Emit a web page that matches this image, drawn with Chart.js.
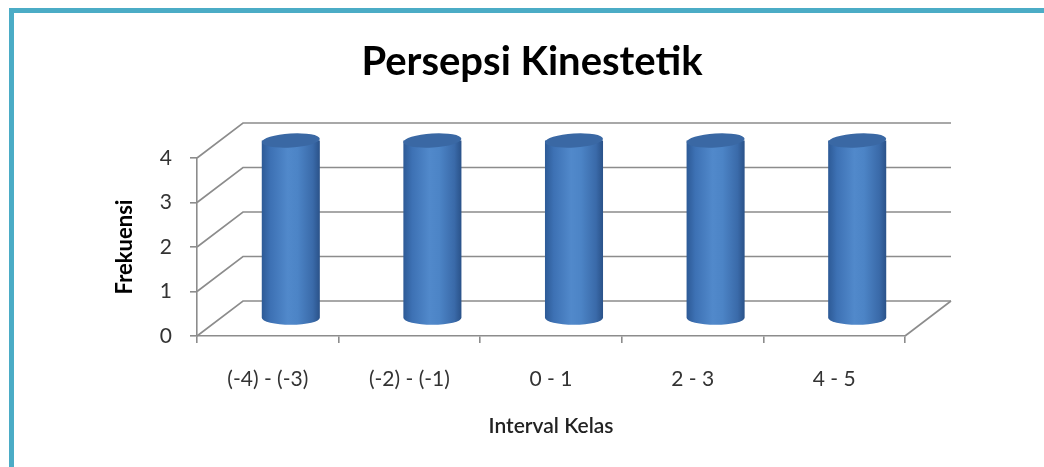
<!DOCTYPE html>
<html>
<head>
<meta charset="utf-8">
<script src="https://cdn.jsdelivr.net/npm/chart.js@4"></script>
<style>
  html, body { margin: 0; padding: 0; background: #fff; }
  #wrap { position: relative; width: 1044px; height: 467px; overflow: hidden; }
  #frame { position: absolute; left: 9px; top: 8px; right: -10px; bottom: -10px;
           border-left: 5px solid #4bacc6; border-top: 5px solid #4bacc6; pointer-events: none; }
  canvas { position: absolute; left: 0; top: 0; }
</style>
</head>
<body>
<div id="wrap">
  <canvas id="kinestetik_Chart" width="1044" height="467"></canvas>
  <div id="frame"></div>
</div>
<script>
// data
var categories = ['(-4) - (-3)', '(-2) - (-1)', '0 - 1', '2 - 3', '4 - 5'];
var frekuensi = [4, 4, 4, 4, 4];
var yTicks = [0, 1, 2, 3, 4];

// depth offset of the back wall (3d look)
var DX = 46, DY = -35;

var wall3d = {
	id: 'wall3d',
	beforeDatasetsDraw: function(chart) {
		var ctx = chart.ctx;
		var ys = chart.scales.y, xs = chart.scales.x;
		ctx.save();
		ctx.strokeStyle = '#8c8c8c';
		ctx.lineWidth = 1.6;
		// side wall diagonals + back wall lines
		yTicks.forEach(function(v) {
			var py = ys.getPixelForValue(v);
			ctx.beginPath();
			ctx.moveTo(xs.left, py);
			ctx.lineTo(xs.left + DX, py + DY);
			ctx.lineTo(xs.right + DX, py + DY);
			ctx.stroke();
		});
		// floor right edge
		var base = ys.getPixelForValue(0);
		ctx.beginPath();
		ctx.moveTo(xs.right, base);
		ctx.lineTo(xs.right + DX, base + DY);
		ctx.stroke();
		ctx.restore();
	},
	afterDatasetsDraw: function(chart) {
		var ctx = chart.ctx;
		var meta = chart.getDatasetMeta(0);
		ctx.save();
		meta.data.forEach(function(el) {
			var p = el.getProps(['x', 'y', 'base', 'width'], true);
			var cx = p.x + DX / 2;
			var rx = p.width / 2;
			var ry = 7;
			var top = p.y + DY / 2;
			var bot = p.base + DY / 2;
			var g = ctx.createLinearGradient(cx - rx, 0, cx + rx, 0);
			g.addColorStop(0, '#2d5a96');
			g.addColorStop(0.15, '#3d71b4');
			g.addColorStop(0.45, '#5189cb');
			g.addColorStop(0.62, '#4c84c6');
			g.addColorStop(0.88, '#3a6aa9');
			g.addColorStop(1, '#2a5289');
			// body
			ctx.beginPath();
			ctx.moveTo(cx - rx, top);
			ctx.lineTo(cx - rx, bot);
			ctx.ellipse(cx, bot, rx, ry, 0, Math.PI, 0, true);
			ctx.lineTo(cx + rx, top);
			ctx.closePath();
			ctx.fillStyle = g;
			ctx.fill();
			// top cap
			ctx.beginPath();
			ctx.ellipse(cx, top, rx, ry, -0.06, 0, Math.PI * 2);
			ctx.fillStyle = '#3a68a4';
			ctx.fill();
		});
		ctx.restore();
	}
};

var context = document.getElementById('kinestetik_Chart').getContext('2d');
var kinestetik_Chart = new Chart(context, {
	type: 'bar',
	data: {
		labels: categories,
		datasets: [{
			label: 'Frekuensi',
			data: frekuensi,
			backgroundColor: 'rgba(0,0,0,0)',
			borderWidth: 0,
			categoryPercentage: 1,
			barPercentage: 0.41
		}]
	},
	options: {
		responsive: false,
		animation: false,
		layout: { padding: { left: 20, right: 0, top: 0, bottom: 0 } },
		plugins: {
			legend: { display: false },
			tooltip: { enabled: false },
			title: {
				display: true,
				text: 'Persepsi Kinestetik',
				color: '#000',
				font: { family: 'Lato', size: 40, weight: 'bold', lineHeight: 1.2 },
				padding: { top: 38, bottom: 72 }
			}
		},
		scales: {
			x: {
				grid: { display: true, drawOnChartArea: false, tickLength: 7, color: '#8c8c8c', lineWidth: 1.6 },
				border: { display: true, color: '#8c8c8c', width: 1.6 },
				ticks: { color: '#333', padding: 24, maxRotation: 0, font: { family: 'Lato', size: 21 } },
				title: {
					display: true,
					text: 'Interval Kelas',
					color: '#222',
					font: { family: 'Lato', size: 21, weight: '600', lineHeight: 1.2 },
					padding: { top: 0, bottom: 28 }
				},
				afterFit: function(s) { s.height = 131; }
			},
			y: {
				min: 0,
				max: 4,
				ticks: { stepSize: 1, color: '#333', padding: 18, font: { family: 'Lato', size: 21 } },
				grid: { display: true, drawOnChartArea: false, tickLength: 7, color: '#8c8c8c', lineWidth: 1.6 },
				border: { display: true, color: '#8c8c8c', width: 1.6 },
				title: {
					display: true,
					text: 'Frekuensi',
					color: '#000',
					font: { family: 'Lato', size: 22, weight: 'bold', lineHeight: 1.2 },
					padding: { top: 92, bottom: 0 }
				},
				afterFit: function(s) { s.width = 177; }
			},
			y2: {
				position: 'right',
				display: true,
				grid: { display: false },
				border: { display: false },
				ticks: { display: false },
				afterFit: function(s) { s.width = 139; }
			}
		}
	},
	plugins: [wall3d]
});
</script>
</body>
</html>
